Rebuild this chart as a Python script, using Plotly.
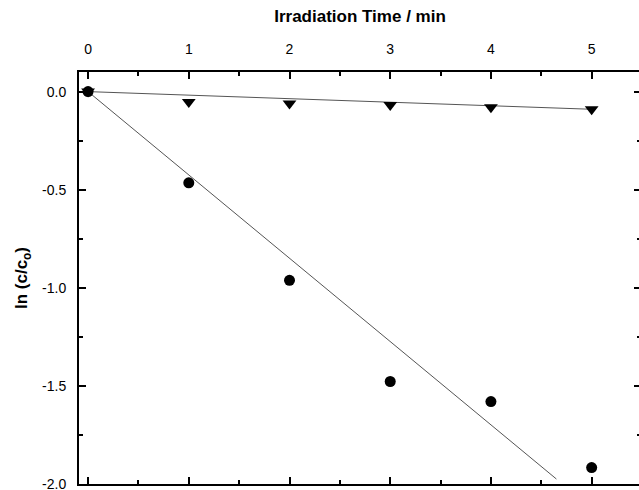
import plotly.graph_objects as go

time_min = [0, 1, 2, 3, 4, 5]
ln_circle = [0.0, -0.465, -0.962, -1.478, -1.58, -1.917]
ln_triangle = [0.0, -0.053, -0.06, -0.068, -0.08, -0.09]
fit_circle_x = [0, 4.65]
fit_circle_y = [0.0, -1.975]
fit_tri_x = [0, 5]
fit_tri_y = [0.0, -0.09]
x_ticks = [0, 1, 2, 3, 4, 5]
y_ticks = [0.0, -0.5, -1.0, -1.5, -2.0]
y_ticktext = ["0.0", "-0.5", "-1.0", "-1.5", "-2.0"]

FONT = "Liberation Sans, Arial, sans-serif"

fig = go.Figure()
fig.add_trace(go.Scatter(x=fit_circle_x, y=fit_circle_y, mode="lines",
                         line=dict(color="#555555", width=1), showlegend=False))
fig.add_trace(go.Scatter(x=fit_tri_x, y=fit_tri_y, mode="lines",
                         line=dict(color="#555555", width=1), showlegend=False))
fig.add_trace(go.Scatter(x=time_min, y=ln_circle, mode="markers",
                         marker=dict(symbol="circle", size=11, color="black"), showlegend=False))
fig.add_trace(go.Scatter(x=time_min, y=ln_triangle, mode="markers",
                         marker=dict(symbol="triangle-down", size=12, color="black"), showlegend=False))

minor_x = dict(ticks="inside", ticklen=4, tickwidth=1.5, tickcolor="black",
               dtick=0.5, tick0=0, showgrid=False)
minor_y = dict(ticks="inside", ticklen=4, tickwidth=1.5, tickcolor="black",
               dtick=0.25, tick0=0, showgrid=False)

fig.update_layout(
    width=641, height=490,
    margin=dict(l=79, r=0, t=72, b=6, autoexpand=False),
    paper_bgcolor="white", plot_bgcolor="white",
    font=dict(family=FONT, color="black", size=14),
    xaxis=dict(
        side="top", range=[-0.09, 5.49], tickmode="array",
        tickvals=x_ticks, ticktext=[str(v) for v in x_ticks],
        ticks="inside", ticklen=7, tickwidth=1.5, tickcolor="black",
        showline=True, linecolor="black", linewidth=2, mirror="allticks",
        showgrid=False, zeroline=False, automargin=False,
        minor=minor_x, ticklabeloverflow="allow",
        tickfont=dict(size=14), ticklabelstandoff=10,
        title=dict(text="<b>Irradiation Time / min</b>", font=dict(size=17), standoff=14),
    ),
    yaxis=dict(
        range=[-2.0005, 0.1], tickmode="array",
        tickvals=y_ticks, ticktext=y_ticktext,
        ticks="inside", ticklen=7, tickwidth=1.5, tickcolor="black",
        showline=True, linecolor="black", linewidth=2, mirror="allticks",
        showgrid=False, zeroline=False, automargin=False,
        minor=minor_y, ticklabeloverflow="allow",
        tickfont=dict(size=14), ticklabelstandoff=8,
        title=dict(text="<b>ln (c/c<sub>o</sub>)</b>", font=dict(size=17), standoff=10),
    ),
)

fig.write_html("out.html", config={"displayModeBar": False},
               post_script="document.body.style.margin='0';document.body.style.overflow='hidden';")
